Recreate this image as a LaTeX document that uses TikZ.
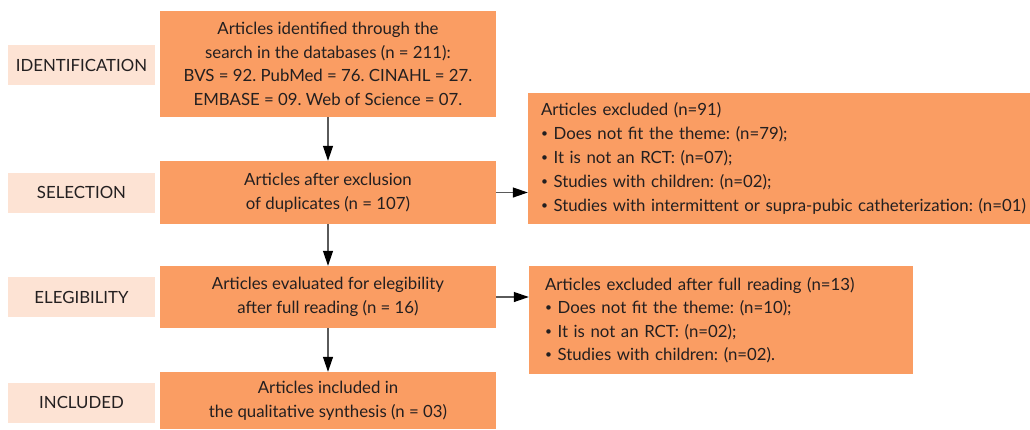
\documentclass[tikz,border=0pt]{standalone}
\usepackage{fontspec}
\setmainfont{Lato}
\usepackage{xcolor}
\usetikzlibrary{arrows.meta,positioning}
\definecolor{FlowOrange}{HTML}{FA9D63}
\definecolor{StagePeach}{HTML}{FDE3D4}
\definecolor{InkDark}{HTML}{231F20}
\definecolor{ShaftGray}{HTML}{5A5A5A}
\frenchspacing
\newcommand{\itemdot}{\raisebox{0.2ex}{\fontsize{12}{12}\selectfont•}}

\begin{document}
\begin{tikzpicture}[
      x=1pt,y=-1pt,
      font=\fontsize{16.8}{23.5}\selectfont,
      text=InkDark,
      flowbox/.style={fill=FlowOrange,inner sep=0pt,minimum width=336pt,align=center},
      stagebox/.style={fill=StagePeach,inner sep=0pt,minimum width=147pt,minimum height=40pt},
      exclbox/.style={fill=FlowOrange,inner ysep=0pt,align=left},
      arr/.style={-{Triangle[length=15pt,width=10pt,color=black]},line width=1.2pt,draw=ShaftGray}
    ]
      \useasboundingbox (0,0) rectangle (1030,429);
      % stage labels
      \node[stagebox] (sident) at (81.5,65) {IDENTIFICATION};
      \node[stagebox] (ssel) at (81.5,192.5) {SELECTION};
      \node[stagebox] (selig) at (81.5,297) {ELEGIBILITY};
      \node[stagebox] (sincl) at (81.5,402.5) {INCLUDED};
      % main flow
      \node[flowbox,minimum height=106pt] (ident) at (328,64) {Articles identified through the\\search in the databases (n = 211):\\BVS = 92. PubMed = 76. CINAHL = 27.\\EMBASE = 09. Web of Science = 07.};
      \node[flowbox,minimum height=63pt] (dedup) at (328,192.5) {Articles after exclusion\\of duplicates (n = 107)};
      \node[flowbox,minimum height=62pt] (elig) at (328,297) {Articles evaluated for elegibility\\after full reading (n = 16)};
      \node[flowbox,minimum height=57pt] (incl) at (328,400.5) {Articles included in\\the qualitative synthesis (n = 03)};
      % exclusions
      \node[exclbox,inner xsep=13pt,text width=476pt,minimum height=131pt,font=\fontsize{16.8}{24}\selectfont] (excl) at (779,158.5) {Articles excluded (n=91)\\
        \itemdot{} Does not fit the theme: (n=79);\\
        \itemdot{} It is not an RCT: (n=07);\\
        \itemdot{} Studies with children: (n=02);\\
        \mbox{\itemdot{} Studies with intermittent or supra-pubic catheterization: (n=01)}};
      \node[exclbox,inner xsep=16pt,text width=352pt,minimum height=108pt] (exfull) at (721,320) {Articles excluded after full reading (n=13)\\
        \itemdot{} Does not fit the theme: (n=10);\\
        \itemdot{} It is not an RCT: (n=02);\\
        \itemdot{} Studies with children: (n=02).};
      \draw[arr] (ident) -- (dedup);
      \draw[arr] (dedup) -- (elig);
      \draw[arr] (elig) -- (incl);
      \draw[arr] (dedup.east) -- (dedup.east -| excl.west);
      \draw[arr] (elig.east) -- (elig.east -| exfull.west);
    \end{tikzpicture}
\end{document}
